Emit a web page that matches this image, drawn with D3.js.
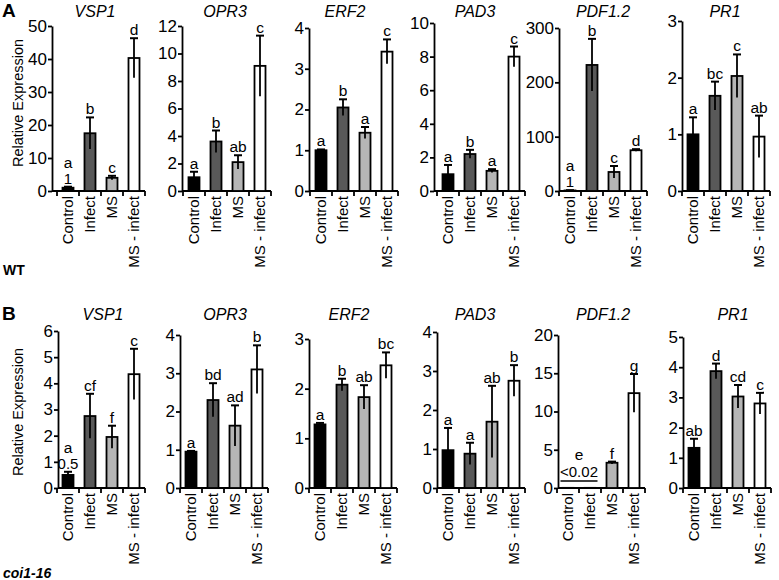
<!DOCTYPE html>
<html><head><meta charset="utf-8">
<script src="https://cdn.jsdelivr.net/npm/d3@7"></script>
<style>body{margin:0;background:#fff} svg{display:block} text{font-family:"Liberation Sans",Arial,sans-serif}</style>
</head><body><svg id="c" width="779" height="580"></svg>
<script>
const categories = ["Control", "Infect", "MS", "MS - infect"];
const genes = ["VSP1", "OPR3", "ERF2", "PAD3", "PDF1.2", "PR1"];
const fillColors = ["#000000", "#595959", "#b5b5b5", "#ffffff"];

// Panel A — WT
const wtMax = [50, 12, 4, 10, 300, 3];
const wtStep = [10, 2, 1, 2, 100, 1];
const wtValues = [[1, 17.5, 4, 40.3], [1.0, 3.6, 2.1, 9.1], [1.0, 2.05, 1.43, 3.42], [1.0, 2.2, 1.2, 8.0], [1, 232, 35, 75], [1.0, 1.68, 2.03, 0.96]];
const wtErrors = [[0.3, 4.8, 0.6, 6], [0.4, 0.8, 0.5, 2.2], [0.02, 0.2, 0.14, 0.3], [0.55, 0.25, 0.1, 0.6], [0.5, 48, 11, 2], [0.3, 0.25, 0.38, 0.37]];
const wtLetters = [["a", "b", "c", "d"], ["a", "b", "ab", "c"], ["a", "b", "a", "c"], ["a", "b", "a", "c"], ["a", "b", "c", "d"], ["a", "bc", "c", "ab"]];
const wtValueNotes = [["1", "", "", ""], ["", "", "", ""], ["", "", "", ""], ["", "", "", ""], ["1", "", "", ""], ["", "", "", ""]];

// Panel B — coi1-16
const coiMax = [6, 4, 3, 4, 20, 5];
const coiStep = [1, 1, 1, 1, 5, 1];
const coiValues = [[0.5, 2.75, 1.95, 4.35], [0.95, 2.3, 1.63, 3.1], [1.28, 2.08, 1.83, 2.47], [0.97, 0.88, 1.7, 2.75], [0.02, 0.02, 3.3, 12.4], [1.33, 3.87, 3.03, 2.8]];
const coiErrors = [[0.12, 0.85, 0.43, 0.97], [0.02, 0.44, 0.53, 0.63], [0.03, 0.12, 0.24, 0.26], [0.57, 0.28, 0.92, 0.4], [0, 0, 0.15, 2.5], [0.3, 0.25, 0.38, 0.35]];
const coiLetters = [["a", "cf", "f", "c"], ["a", "bd", "ad", "b"], ["a", "b", "ab", "bc"], ["a", "a", "ab", "b"], ["", "", "f", "g"], ["ab", "d", "cd", "c"]];
const coiValueNotes = [["0.5", "", "", ""], ["", "", "", ""], ["", "", "", ""], ["", "", "", ""], ["", "", "", ""], ["", "", "", ""]];
const coiPdfGroupLetter = "e";
const coiPdfGroupNote = "<0.02";

const svg = d3.select("#c");

const rows = [
  {label: "A", labelY: 17, genotype: "WT", genoY: 275, italic: false,
   max: wtMax, step: wtStep, values: wtValues, errors: wtErrors, letters: wtLetters, notes: wtValueNotes,
   yTop: [26, 26, 28, 23, 28, 21], yBottom: 191,
   axisX: [52, 182, 309, 434, 559, 682], bandStart: [57, 183, 310, 437, 559, 682],
   titleX: [95, 225, 345, 475, 603, 725], titleY: 17, ylabY: 103},
  {label: "B", labelY: 320, genotype: "coi1-16", genoY: 578, italic: true,
   max: coiMax, step: coiStep, values: coiValues, errors: coiErrors, letters: coiLetters, notes: coiValueNotes,
   yTop: [331, 335, 339, 332, 335, 337], yBottom: 488,
   axisX: [58, 180, 309, 437, 558, 683], bandStart: [57, 180, 309, 437, 557, 683],
   titleX: [103, 225, 349, 475, 603, 733], titleY: 320, ylabY: 412}
];

rows.forEach((row, ri) => {
  svg.append("text").attr("x", 2).attr("y", row.labelY).attr("font-size", 19).attr("font-weight", "bold").text(row.label);
  svg.append("text").attr("x", 3).attr("y", row.genoY).attr("font-size", 14).attr("font-weight", "bold")
     .attr("font-style", row.italic ? "italic" : "normal").text(row.genotype);
  svg.append("text").attr("transform", `translate(23,${row.ylabY}) rotate(-90)`).attr("text-anchor", "middle")
     .attr("font-size", 14.5).text("Relative Expression");

  genes.forEach((gene, gi) => {
    const g = svg.append("g");
    const y = d3.scaleLinear().domain([0, row.max[gi]]).range([row.yBottom, row.yTop[gi]]);
    const bs = row.bandStart[gi];
    const x = d3.scaleBand().domain(categories).range([bs, bs + 88]).paddingInner(0.5).paddingOuter(0.25);
    const ax = row.axisX[gi];

    // title
    g.append("text").attr("x", row.titleX[gi]).attr("y", row.titleY).attr("text-anchor", "middle")
      .attr("font-size", 16).attr("font-style", "italic").text(gene);

    // y axis
    const ticks = d3.range(0, row.max[gi] + row.step[gi] / 2, row.step[gi]);
    const yAxis = g.append("g").attr("transform", `translate(${ax},0)`)
      .call(d3.axisLeft(y).tickValues(ticks).tickFormat(d3.format("d")).tickSize(4).tickSizeOuter(0).tickPadding(1));
    yAxis.select(".domain").attr("stroke-width", 1.8);
    yAxis.selectAll(".tick line").attr("stroke-width", 1.8);
    yAxis.selectAll(".tick text").attr("font-size", 17).attr("font-family", "Liberation Sans, Arial, sans-serif").attr("fill", "#000");

    // x axis
    g.append("line").attr("x1", ax).attr("x2", bs + 88).attr("y1", row.yBottom).attr("y2", row.yBottom)
      .attr("stroke", "#000").attr("stroke-width", 1.8);
    d3.range(0, 5).forEach(k => {
      const tx = bs + x.step() * k;
      g.append("line").attr("x1", tx).attr("x2", tx).attr("y1", row.yBottom).attr("y2", row.yBottom + 5)
        .attr("stroke", "#000").attr("stroke-width", 1.8);
    });
    categories.forEach(c => {
      g.append("text").attr("transform", `translate(${x(c) + x.bandwidth() / 2},${row.yBottom + 5}) rotate(-90)`)
        .attr("text-anchor", "end").attr("dy", "0.35em").attr("font-size", 15).text(c);
    });

    // bars
    categories.forEach((c, ci) => {
      const v = row.values[gi][ci];
      g.append("rect").attr("x", x(c)).attr("width", x.bandwidth())
        .attr("y", y(v)).attr("height", Math.max(0, y(0) - y(v)))
        .attr("fill", fillColors[ci]).attr("stroke", "#000").attr("stroke-width", 1.8);
    });
    // error bars + letters
    categories.forEach((c, ci) => {
      const v = row.values[gi][ci], e = row.errors[gi][ci];
      const cx = x(c) + x.bandwidth() / 2;
      const capY = y(v + e);
      if (e > 0) {
        g.append("line").attr("x1", cx).attr("x2", cx).attr("y1", y(Math.max(0, v - e))).attr("y2", capY)
          .attr("stroke", "#000").attr("stroke-width", 1.8);
        g.append("line").attr("x1", cx - 4).attr("x2", cx + 4).attr("y1", capY).attr("y2", capY)
          .attr("stroke", "#000").attr("stroke-width", 2);
      }
      let base = capY - 3;
      const note = row.notes[gi][ci];
      if (note) {
        g.append("text").attr("x", cx).attr("y", base).attr("text-anchor", "middle").attr("font-size", 15).text(note);
        base -= 16;
      }
      const L = row.letters[gi][ci];
      if (L) g.append("text").attr("x", cx).attr("y", base).attr("text-anchor", "middle").attr("font-size", 15.5).text(L);
    });

    // special grouped note for coi1-16 PDF1.2
    if (ri === 1 && gene === "PDF1.2") {
      const x0 = x(categories[0]) - 2, x1 = x(categories[1]) + x.bandwidth() + 2;
      const ly = row.yBottom - 7;
      g.append("line").attr("x1", x0).attr("x2", x1).attr("y1", ly).attr("y2", ly).attr("stroke", "#000").attr("stroke-width", 1.6);
      g.append("text").attr("x", (x0 + x1) / 2).attr("y", ly - 4).attr("text-anchor", "middle").attr("font-size", 15).text(coiPdfGroupNote);
      g.append("text").attr("x", (x0 + x1) / 2).attr("y", ly - 21).attr("text-anchor", "middle").attr("font-size", 15.5).text(coiPdfGroupLetter);
    }
  });
});
</script></body></html>
